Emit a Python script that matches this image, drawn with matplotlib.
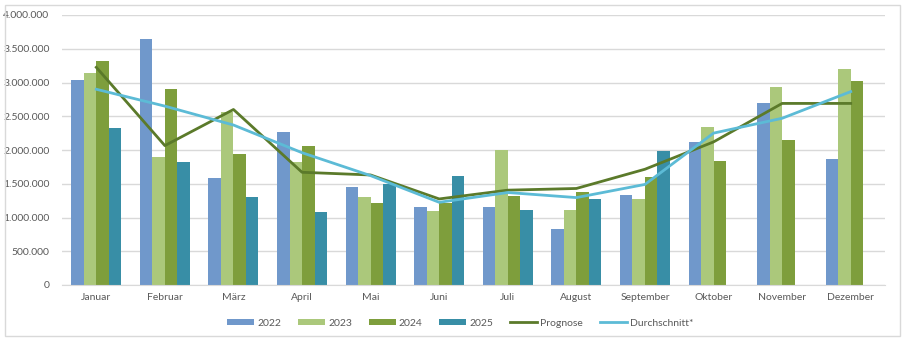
import numpy as np
import matplotlib.pyplot as plt
from matplotlib.patches import Rectangle

plt.rcParams['font.family'] = ['Lato', 'DejaVu Sans']

months = ["Januar", "Februar", "März", "April", "Mai", "Juni", "Juli",
          "August", "September", "Oktober", "November", "Dezember"]

v2022 = [3030000, 3650000, 1585000, 2270000, 1455000, 1160000, 1150000,
         825000, 1335000, 2115000, 2695000, 1865000]
v2023 = [3145000, 1890000, 2560000, 1820000, 1300000, 1100000, 1995000,
         1110000, 1270000, 2345000, 2930000, 3200000]
v2024 = [3320000, 2900000, 1940000, 2065000, 1220000, 1220000, 1320000,
         1375000, 1605000, 1835000, 2155000, 3025000]
v2025 = [2320000, 1820000, 1300000, 1080000, 1495000, 1615000, 1110000,
         1275000, 1990000, np.nan, np.nan, np.nan]
prognose = [3225000, 2065000, 2600000, 1670000, 1630000, 1275000, 1405000,
            1430000, 1715000, 2120000, 2690000, 2690000]
durchschnitt = [2900000, 2650000, 2370000, 1960000, 1620000, 1225000, 1370000,
                1295000, 1490000, 2250000, 2470000, 2865000]

series = [("2022", v2022, "#7098CB"), ("2023", v2023, "#ABC87B"),
          ("2024", v2024, "#7E9E3C"), ("2025", v2025, "#388EA6")]

fig = plt.figure(figsize=(9.05, 3.4), dpi=100)
ax = fig.add_axes([62 / 905, 55 / 340, 823 / 905, 270 / 340])

# chart border
fig.patches.append(Rectangle((5 / 905, 4 / 340), 895 / 905, 331 / 340,
                             transform=fig.transFigure, fill=False,
                             edgecolor="#D9D9D9", linewidth=1))

x = np.arange(len(months))
w = 0.182
handles = []
for i, (name, vals, col) in enumerate(series):
    b = ax.bar(x + (i - 1.5) * w, vals, width=w, color=col, label=name, zorder=2)
    handles.append(b)

l1, = ax.plot(x, prognose, color="#5B7A2A", linewidth=2, label="Prognose", zorder=3)
l2, = ax.plot(x, durchschnitt, color="#5CBBD6", linewidth=2, label="Durchschnitt*", zorder=3)
handles += [l1, l2]

ax.set_xlim(-0.5, 11.5)
ax.set_ylim(0, 4000000)
ax.set_yticks(np.arange(0, 4000001, 500000))
ax.set_yticklabels(["0"] + [f"{v:,}".replace(",", ".") for v in range(500000, 4000001, 500000)])
ax.set_xticks(x)
ax.set_xticklabels(months)
ax.tick_params(axis="both", length=0, labelsize=7.5, colors="#595959")
ax.tick_params(axis="x", pad=6)
ax.tick_params(axis="y", pad=9)
ax.grid(axis="y", color="#D9D9D9", linewidth=1, zorder=0)
ax.set_axisbelow(True)
for s in ["top", "right", "left"]:
    ax.spines[s].set_visible(False)
ax.spines["bottom"].set_color("#D9D9D9")

leg = ax.legend(handles=handles, labels=[h.get_label() for h in handles],
                loc="upper center", bbox_to_anchor=(0.484, -0.09), ncol=6,
                frameon=False, fontsize=7.5, handlelength=2.6, handleheight=0.45,
                columnspacing=1.6, handletextpad=0.3)
for t in leg.get_texts():
    t.set_color("#595959")

fig.savefig("out.png", dpi=100)
